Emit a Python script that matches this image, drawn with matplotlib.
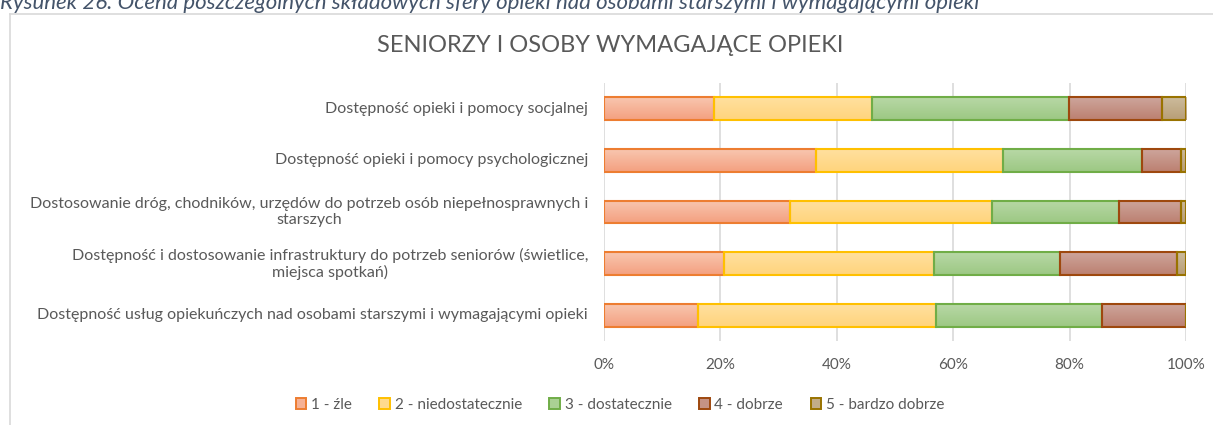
import matplotlib
matplotlib.use("Agg")
import matplotlib.pyplot as plt
import numpy as np
from matplotlib.colors import LinearSegmentedColormap
from matplotlib.lines import Line2D
from matplotlib.patches import Patch

categories = [
    "Dostępność opieki i pomocy socjalnej",
    "Dostępność opieki i pomocy psychologicznej",
    "Dostosowanie dróg, chodników, urzędów do potrzeb osób niepełnosprawnych i\nstarszych",
    "Dostępność i dostosowanie infrastruktury do potrzeb seniorów (świetlice,\nmiejsca spotkań)",
    "Dostępność usług opiekuńczych nad osobami starszymi i wymagającymi opieki",
]
series_names = ["1 - źle", "2 - niedostatecznie", "3 - dostatecznie", "4 - dobrze", "5 - bardzo dobrze"]
s1 = [18.9, 36.5, 32.0, 20.7, 16.1]
s2 = [27.1, 32.1, 34.7, 36.0, 40.9]
s3 = [33.9, 23.8, 21.8, 21.7, 28.6]
s4 = [15.9, 6.8, 10.7, 20.1, 14.4]
s5 = [4.2, 0.8, 0.8, 1.5, 0.0]
series = [s1, s2, s3, s4, s5]
xticks = [0, 20, 40, 60, 80, 100]
xticklabels = ["0%", "20%", "40%", "60%", "80%", "100%"]

tops = ["#F8C6AF", "#FFE09F", "#B8D8A6", "#CDA59C", "#CCBB9C"]
bots = ["#F4A080", "#FFD47C", "#9CC883", "#BC8070", "#B89E76"]
edges = ["#ED7D31", "#FFC000", "#70AD47", "#9E480E", "#997300"]
mid = ["#F6B194", "#FFDA8C", "#AAD094", "#C59285", "#C2AC89"]

plt.rcParams['font.family'] = ['Lato', 'DejaVu Sans']
fig = plt.figure(figsize=(12.13, 4.25), dpi=100)
ax = fig.add_axes([604/1213, 1-341/425, (1186-604)/1213, (341-83)/425])

# frame of chart area
fig.add_artist(Line2D([10/1213, 10/1213], [0, 1-14/425], color="#D9D9D9", lw=1.2, transform=fig.transFigure))
fig.add_artist(Line2D([10/1213, 1], [1-14/425, 1-14/425], color="#D9D9D9", lw=1.2, transform=fig.transFigure))

y = np.arange(len(categories))
left = np.zeros(len(categories))
h = 0.44
for i, vals in enumerate(series):
    bars = ax.barh(y, vals, left=left, height=h, color=mid[i], edgecolor=edges[i], linewidth=1.5, zorder=3)
    cmap = LinearSegmentedColormap.from_list("g%d" % i, [tops[i], bots[i]])
    grad = np.linspace(0, 1, 64).reshape(-1, 1)
    for b in bars:
        if b.get_width() <= 0:
            continue
        x0, y0 = b.get_x(), b.get_y()
        im = ax.imshow(grad, cmap=cmap, aspect='auto', origin='upper',
                       extent=[x0, x0 + b.get_width(), y0 + b.get_height(), y0], zorder=2.5)
        im.set_clip_path(b)
        b.set_facecolor("none")
    left = left + np.array(vals)

ax.set_xlim(0, 100)
ax.set_ylim(len(categories) - 0.5, -0.5)
ax.set_yticks(y)
ax.set_yticklabels([])
for yi, c in zip(y, categories):
    ax.annotate(c, xy=(0, yi), xycoords=('axes fraction', 'data'), xytext=(-11.5, 0),
                textcoords='offset points', ha='right', va='center', fontsize=11.5,
                color="#595959", multialignment='center', linespacing=1.15)
ax.set_xticks(xticks)
ax.set_xticklabels(xticklabels, fontsize=11, color="#595959")
ax.tick_params(axis='x', length=0, pad=12)
ax.tick_params(axis='y', length=0)
ax.grid(axis='x', color="#D9D9D9", lw=1.2, zorder=0)
ax.set_axisbelow(True)
for s in ax.spines.values():
    s.set_visible(False)

fig.text(610/1213, 1-46/425, "SENIORZY I OSOBY WYMAGAJĄCE OPIEKI", ha='center', va='center',
         fontsize=17, color="#595959")
fig.text(0.0, 1 - 9/425, "Rysunek 26. Ocena poszczególnych składowych sfery opieki nad osobami starszymi i wymagającymi opieki",
         ha='left', va='baseline', fontsize=16, style='italic', color="#44546A")

handles = [Patch(facecolor=mid[i], edgecolor=edges[i], linewidth=1.4, label=series_names[i]) for i in range(5)]
fig.legend(handles=handles, loc='center', bbox_to_anchor=(620/1213, 1-405/425), ncol=5, frameon=False,
           labelcolor="#595959", handlelength=0.7, handleheight=0.7, handletextpad=0.3,
           columnspacing=1.8, prop={'size': 11})

fig.savefig("out.png", dpi=100)
